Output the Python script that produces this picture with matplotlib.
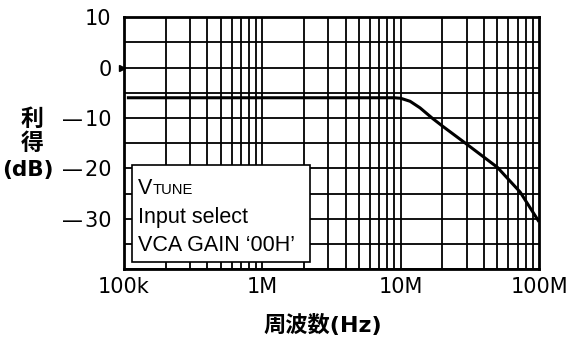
import matplotlib
matplotlib.use("Agg")
import matplotlib.pyplot as plt
import matplotlib.ticker as mticker
from matplotlib.transforms import offset_copy
import numpy as np

plt.rcParams['font.family'] = ['DejaVu Sans', 'Noto Sans CJK JP']

# Frequency response data
freq_hz = [1.05e5, 1e6, 5e6, 9e6, 1.0e7, 1.17e7, 1.38e7, 1.7e7, 2.0e7, 3.0e7, 5.0e7, 7.3e7, 1.0e8]
gain_db = [-6.0, -6.0, -6.0, -6.0, -6.1, -6.7, -8.0, -10.1, -11.6, -15.2, -19.8, -24.7, -30.6]

x_ticks = [1e5, 1e6, 1e7, 1e8]
x_tick_labels = ["100k", "1M", "10M", "100M"]
y_ticks = [10, 0, -10, -20, -30]
y_tick_labels = ["10", "0", "\u2014\u200a10", "\u2014\u200a20", "\u2014\u200a30"]
cond_head = ("V", "TUNE")
cond_lines = ["Input select", "VCA GAIN \u201800H\u2019"]

fig = plt.figure(figsize=(5.71, 3.42), dpi=100)
ax = fig.add_axes([0.217, 0.213, 0.727, 0.737])

ax.set_xscale('log')
ax.set_xlim(1e5, 1e8)
ax.set_ylim(-40, 10)

# Grid: decades plus 2..9 minors, every 5 dB vertically
for dec in [1e5, 1e6, 1e7]:
    for m in range(1, 10):
        ax.axvline(dec * m, color='black', lw=1.3, zorder=1)
for y in np.arange(-40, 10.1, 5):
    ax.axhline(y, color='black', lw=1.3, zorder=1)

ax.plot(freq_hz, gain_db, color='black', lw=2.2, zorder=3, solid_capstyle='butt')

ax.set_xticks(x_ticks)
ax.set_xticklabels(x_tick_labels, fontsize=15)
ax.xaxis.set_minor_locator(mticker.NullLocator())
ax.set_yticks(y_ticks)
ax.set_yticklabels(y_tick_labels, fontsize=15)
ax.yaxis.set_minor_locator(mticker.NullLocator())
ax.tick_params(axis='x', length=0, pad=6)
ax.tick_params(axis='y', length=0, pad=9)

for s in ax.spines.values():
    s.set_linewidth(2)

# reference arrow at 0 dB
ax.plot([1e5 * 0.962], [0], marker='>', color='black', markersize=4, clip_on=False, zorder=5)

# condition box
box = plt.Rectangle((0.019, 0.028), 0.429, 0.385, transform=ax.transAxes,
                    facecolor='white', edgecolor='black', lw=1.2, zorder=4)
ax.add_patch(box)

cond_font = ['Liberation Sans', 'DejaVu Sans']
x0 = 0.034
v = ax.text(x0, 0.298, cond_head[0], transform=ax.transAxes, fontsize=15.5,
            family=cond_font, va='baseline', ha='left', zorder=5)
fig.canvas.draw()
vb = v.get_window_extent()
ax.text(x0, 0.298, cond_head[1],
        transform=offset_copy(ax.transAxes, fig=fig, x=vb.width / fig.dpi * 72 + 0.5, y=0, units='points'),
        fontsize=10.6, family=cond_font, va='baseline', ha='left', zorder=5)
for i, line in enumerate(cond_lines):
    ax.text(x0, 0.183 - i * 0.111, line, transform=ax.transAxes, fontsize=15.5,
            family=cond_font, va='baseline', ha='left', zorder=5)

lab_font = ['Noto Sans CJK JP', 'DejaVu Sans']
mix_font = ['DejaVu Sans', 'Noto Sans CJK JP']
fig.text(0.056, 1 - 119 / 342, "利", fontsize=16.5, fontweight='bold', family=lab_font,
         ha='center', va='center')
fig.text(0.056, 1 - 144 / 342, "得", fontsize=16.5, fontweight='bold', family=lab_font,
         ha='center', va='center')
fig.text(28 / 571, 1 - 170 / 342, "(dB)", fontsize=15.5, fontweight='bold', family=mix_font,
         ha='center', va='center')
fig.text(323 / 571, 1 - 325 / 342, "周波数(Hz)", fontsize=16, fontweight='bold', family=mix_font,
         ha='center', va='center')

fig.savefig("out.png", dpi=100)
